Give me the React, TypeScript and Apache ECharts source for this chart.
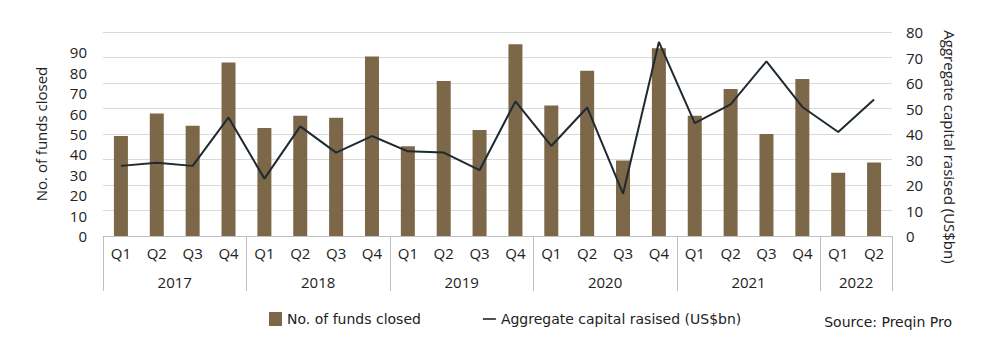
import React, { useEffect, useRef } from "react";
import * as echarts from "echarts";

const years = ["2017", "2018", "2019", "2020", "2021", "2022"];
const quartersPerYear = [4, 4, 4, 4, 4, 2];
const fundsClosed = [49, 60, 54, 85, 53, 59, 58, 88, 44, 76, 52, 94, 64, 81, 37, 92, 59, 72, 50, 77, 31, 36];
const capitalRaised = [27.5, 28.7, 27.5, 46.5, 22.5, 43, 32.7, 39.2, 33.2, 32.7, 25.8, 52.8, 35.3, 50.4, 16.6, 76.1, 44.3, 51.6, 68.5, 50.6, 40.8, 53.5];
const leftTicks = { min: 0, max: 100, interval: 10 };
const rightTicks = { min: 0, max: 80, interval: 10 };

const FONT = "'Open Sans', 'Noto Sans', sans-serif";
const LEGEND_FONT = "'DejaVu Sans', sans-serif";
const FS = 15;

export default function App() {
  const ref = useRef<HTMLDivElement>(null);
  useEffect(() => {
    if (!ref.current) return;
    const chart = echarts.init(ref.current, undefined, { renderer: "svg" });

    const quarterLabels: string[] = [];
    const boundaryLabels: string[] = [];
    const boundaryTicks = new Set<number>();
    let pos = 0;
    years.forEach((y, i) => {
      const c = quartersPerYear[i];
      for (let q = 0; q < c; q++) quarterLabels.push("Q" + (q + 1));
      boundaryTicks.add(pos);
      pos += c;
    });
    boundaryTicks.add(pos);
    for (let k = 0; k <= pos; k++) boundaryLabels.push("");
    let s = 0;
    years.forEach((y, i) => {
      boundaryLabels[s + quartersPerYear[i] / 2] = y;
      s += quartersPerYear[i];
    });

    chart.setOption({
      animation: false,
      grid: { left: 103, right: 108, top: 32, bottom: 114 },
      legend: {
        bottom: 19,
        left: 264,
        itemGap: 62,
        textStyle: { fontFamily: LEGEND_FONT, fontSize: 14, color: "#222" },
        data: [
          { name: "No. of funds closed", icon: "rect", itemStyle: { color: "#7d6749" } },
          {
            name: "Aggregate capital rasised (US$bn)",
            icon: "path://M0,0 L16,0 L16,2 L0,2 Z",
            itemStyle: { color: "#1e2a32" },
          },
        ],
        itemWidth: 13,
        itemHeight: 14,
      },
      graphic: [
        {
          type: "text",
          right: 48,
          bottom: 21,
          style: { text: "Source: Preqin Pro", fontFamily: LEGEND_FONT, fontSize: 14, fill: "#222" },
        },
      ],
      xAxis: [
        {
          type: "category",
          data: quarterLabels,
          position: "bottom",
          axisLine: { lineStyle: { color: "#bfbfbf" } },
          axisTick: { show: false },
          axisLabel: { interval: 0, color: "#222", fontFamily: FONT, fontSize: FS, margin: 9 },
        },
        {
          type: "category",
          data: boundaryLabels,
          boundaryGap: false,
          position: "bottom",
          axisLine: { show: false },
          axisTick: {
            show: true,
            length: 55,
            interval: (i: number) => boundaryTicks.has(i),
            lineStyle: { color: "#bfbfbf" },
          },
          axisLabel: { interval: 0, color: "#222", fontFamily: FONT, fontSize: FS, margin: 38 },
        },
      ],
      yAxis: [
        {
          type: "value",
          ...leftTicks,
          position: "left",
          name: "No. of funds closed",
          nameLocation: "middle",
          nameRotate: 90,
          nameGap: 55,
          nameTextStyle: { fontFamily: FONT, fontSize: FS, color: "#222" },
          splitLine: { show: false },
          axisLine: { show: false },
          axisTick: { show: false },
          axisLabel: {
            color: "#222",
            fontFamily: FONT,
            fontSize: FS,
            margin: 16,
            showMaxLabel: false,
          },
        },
        {
          type: "value",
          ...rightTicks,
          position: "right",
          name: "Aggregate capital rasised (US$bn)",
          nameLocation: "middle",
          nameRotate: -90,
          nameGap: 50,
          nameTextStyle: { fontFamily: FONT, fontSize: FS, color: "#222", padding: [0, 0, 0, 26] },
          splitLine: { show: true, lineStyle: { color: "#d9d9d9" } },
          axisLine: { show: false },
          axisTick: { show: false },
          axisLabel: { color: "#222", fontFamily: FONT, fontSize: FS, margin: 14 },
        },
      ],
      series: [
        {
          name: "No. of funds closed",
          type: "bar",
          xAxisIndex: 0,
          yAxisIndex: 0,
          data: fundsClosed,
          barWidth: 14,
          itemStyle: { color: "#7d6749" },
        },
        {
          name: "Aggregate capital rasised (US$bn)",
          type: "line",
          xAxisIndex: 0,
          yAxisIndex: 1,
          data: capitalRaised,
          symbol: "none",
          lineStyle: { color: "#1e2a32", width: 2 },
          itemStyle: { color: "#1e2a32" },
        },
      ],
    });
    return () => chart.dispose();
  }, []);
  return <div ref={ref} style={{ width: 1000, height: 350, margin: -8 }} />;
}
